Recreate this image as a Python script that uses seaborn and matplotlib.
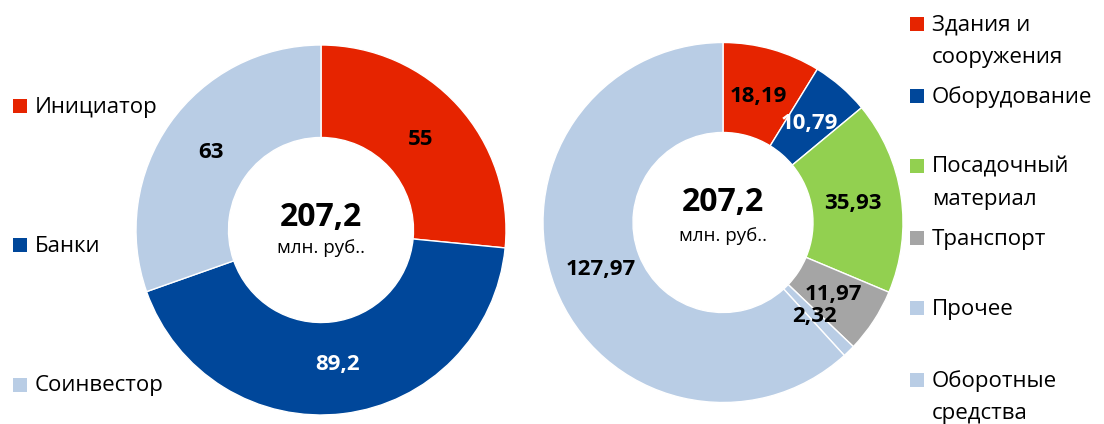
import matplotlib
matplotlib.use("Agg")
import matplotlib.pyplot as plt
import seaborn as sns
import numpy as np
from matplotlib.patches import Rectangle

sns.set_theme(style="white")
plt.rcParams["font.family"] = ["Open Sans", "DejaVu Sans"]

TOTAL_LABEL = "207,2"
UNIT_LABEL = "млн. руб.."

source_names = ["Инициатор", "Банки", "Соинвестор"]
source_values = [55, 89.2, 63]
source_colors = ["#E62400", "#00479A", "#B9CDE5"]
source_label_colors = ["black", "white", "black"]

use_names = ["Здания и\nсооружения", "Оборудование", "Посадочный\nматериал",
             "Транспорт", "Прочее", "Оборотные\nсредства"]
use_values = [18.19, 10.79, 35.93, 11.97, 2.32, 127.97]
use_colors = ["#E62400", "#00479A", "#92D050", "#A5A5A5", "#B9CDE5", "#B9CDE5"]
use_label_colors = ["black", "white", "black", "black", "black", "black"]

W, H = 1104, 424
fig = plt.figure(figsize=(W / 100, H / 100), dpi=100)


def fmt(v):
    return "{:g}".format(v).replace(".", ",")


def donut(cx, cy, r, values, colors, label_colors, total_y, unit_y):
    # cx, cy, r in pixels (cy from top of image)
    ax = fig.add_axes([(cx - r) / W, (H - cy - r) / H, 2 * r / W, 2 * r / H])
    wedges, _ = ax.pie(values, colors=colors, startangle=90, counterclock=False, radius=1,
                       wedgeprops=dict(width=0.5, edgecolor="white", linewidth=1))
    for w, v, c in zip(wedges, values, label_colors):
        ang = np.deg2rad((w.theta1 + w.theta2) / 2)
        ax.text(0.73 * np.cos(ang), 0.73 * np.sin(ang), fmt(v), ha="center", va="center",
                fontsize=16, fontweight="bold", color=c)
    ax.text(0, total_y, TOTAL_LABEL, ha="center", va="baseline", fontsize=23,
            fontweight="bold", color="black")
    ax.text(0, unit_y, UNIT_LABEL, ha="center", va="baseline", fontsize=13.5, color="black")
    ax.set_xlim(-1, 1)
    ax.set_ylim(-1, 1)
    ax.set_aspect("equal")
    ax.axis("off")
    return ax


def legend(names, colors, ys, sq_x, txt_x, gap=33):
    for name, col, y in zip(names, colors, ys):
        fig.add_artist(Rectangle((sq_x / W, (H - y - 7) / H), 14 / W, 14 / H,
                                 transform=fig.transFigure, facecolor=col, edgecolor="none"))
        for i, line in enumerate(name.split("\n")):
            fig.text(txt_x / W, (H - y - 1 - i * gap) / H, line, ha="left", va="center",
                     fontsize=16, color="black")


donut(321, 230, 185, source_values, source_colors, source_label_colors, 0.022, -0.123)
donut(723, 222.5, 180, use_values, use_colors, use_label_colors, 0.064, -0.103)

legend(source_names, source_colors, [106, 245, 385], 13, 35)
legend(use_names, use_colors, [24, 96, 166, 238, 308, 380], 910, 932)

fig.savefig("out.png", dpi=100, facecolor="white")
